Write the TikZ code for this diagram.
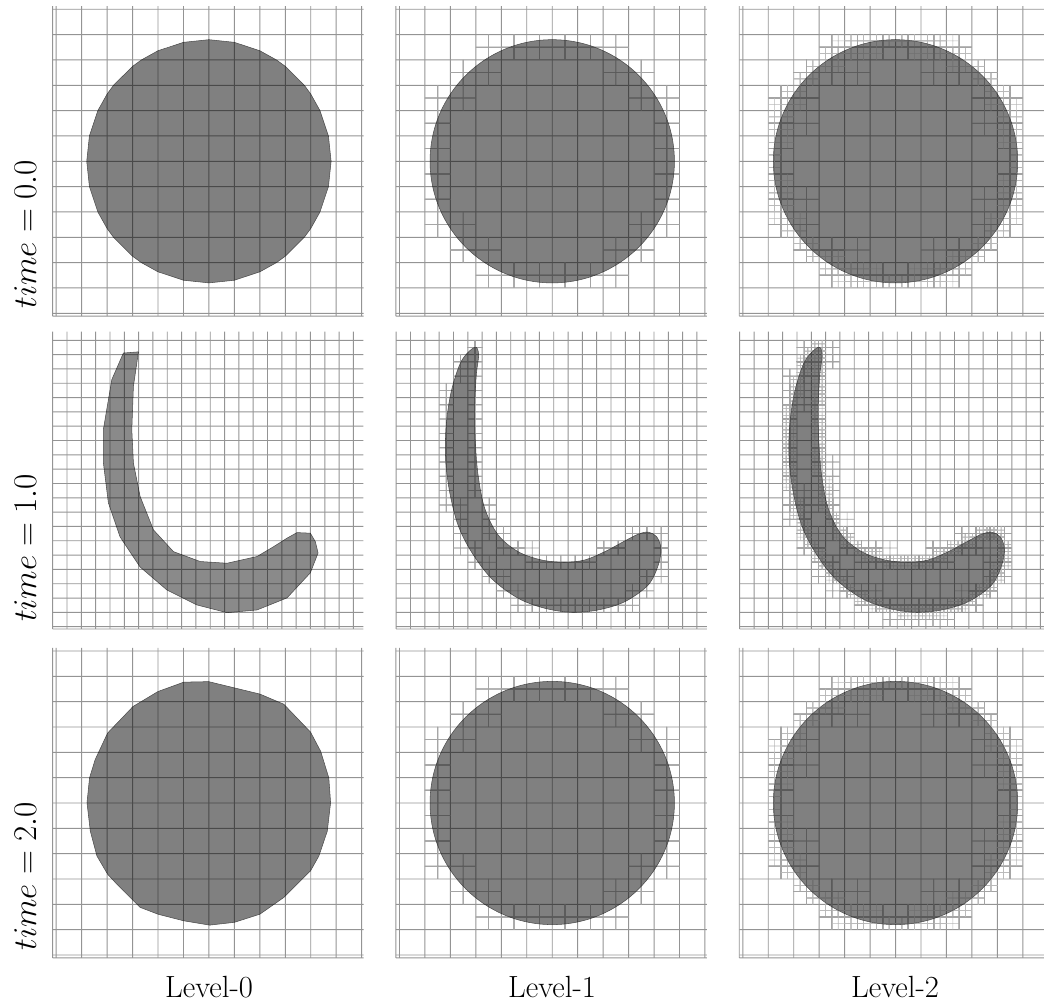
\documentclass[tikz,border=0pt]{standalone}
\usepackage{amsmath}
\usepackage{tikz}

\definecolor{blob}{gray}{0.5}
\definecolor{blobzero}{gray}{0.54}
\tikzset{
  blobfill/.style={fill=blob, draw=black!70, line width=0.4pt},
  coarse/.style={line width=0.7pt},
  fine/.style={black!85, line width=0.5pt},
  finer/.style={black!65, line width=0.4pt},
  meshlayer/.style={transparency group, opacity=0.42},
  panellabel/.style={font=\fontsize{23}{28}\selectfont},
}

% coarse mesh, 12 x 12 cells (circle runs)
\newcommand{\squaregrid}{%
  \foreach \i in {0,...,12} \draw[coarse] (\i,-0.11) -- (\i,12.12);
  \foreach \j in {0,...,12} \draw[coarse] (-0.14,\j) -- (12.08,\j);
  \draw[coarse] (-0.14,-0.11) -- (12.08,-0.11) (-0.14,-0.11) -- (-0.14,12.12);}
% coarse mesh, 21 x 20 cells (crescent runs)
\newcommand{\slimgrid}{%
  \foreach \i in {0,...,21} \draw[coarse] (\i,-0.16) -- (\i,20.6);
  \foreach \j in {0,...,20} \draw[coarse] (0,\j) -- (21.7,\j);
  \draw[coarse] (0,-0.16) -- (21.7,-0.16);}

% split the coarse cell / the half cell holding a point
\newcommand{\splitcell}[2]{%
  \pgfmathsetmacro\cellx{floor(#1)}%
  \pgfmathsetmacro\celly{floor(#2)}%
  \draw[fine] (\cellx+0.5,\celly) -- ++(0,1) (\cellx,\celly+0.5) -- ++(1,0);}
\newcommand{\splithalf}[2]{%
  \pgfmathsetmacro\halfx{floor(2*(#1))/2}%
  \pgfmathsetmacro\halfy{floor(2*(#2))/2}%
  \draw[finer] (\halfx+0.25,\halfy) -- ++(0,0.5) (\halfx,\halfy+0.25) -- ++(0.5,0);}

\newcommand{\circlelevelone}{%
  \foreach \a in {0,2,...,358} {\splitcell{6+4.8*cos(\a)}{6+4.8*sin(\a)}}}
\newcommand{\circleleveltwo}{%
  \foreach \a in {0,2,...,358} {%
    \foreach \r in {4.35,4.8,4.95} {\splitcell{6+\r*cos(\a)}{6+\r*sin(\a)}}%
    \foreach \r in {4.6,4.8,4.95} {\splithalf{6+\r*cos(\a)}{6+\r*sin(\a)}}}}

\newcommand{\crescentpts}{5.476/19.51, 4.545/18.53, 3.846/16.43, 3.497/14.10,
  3.448/11.78, 3.727/9.44, 4.315/7.11, 5.245/5.24, 6.643/3.38, 8.510/1.99,
  10.37/1.29, 12.24/1.01, 14.10/1.17, 15.97/1.75, 17.60/2.92, 18.30/4.31,
  18.48/5.48, 18.18/6.29, 17.60/6.60, 16.90/6.46, 15.97/5.99, 14.57/5.24,
  13.17/4.66, 11.77/4.50, 10.14/4.66, 8.510/5.24, 7.112/6.41, 6.175/8.28,
  5.713/10.61, 5.524/12.94, 5.476/15.27, 5.594/17.60, 5.755/19.00}
\newcommand{\crescentlevelone}{%
  \foreach \x/\y [remember=\x as \lx (initially 5.755), remember=\y as \ly (initially 19.00)] in \crescentpts {%
    \foreach \t in {0,0.1,...,0.9} {\splitcell{\lx+\t*(\x-\lx)}{\ly+\t*(\y-\ly)}}}}
\newcommand{\crescentleveltwo}{%
  \foreach \x/\y [remember=\x as \lx (initially 5.755), remember=\y as \ly (initially 19.00)] in \crescentpts {%
    \foreach \t in {0,0.1,...,0.9} {%
      \pgfmathsetmacro\ptx{\lx+\t*(\x-\lx)}%
      \pgfmathsetmacro\pty{\ly+\t*(\y-\ly)}%
      \foreach \dx/\dy in {0/0,0.35/0,-0.35/0,0/0.35,0/-0.35} {\splitcell{\ptx+(\dx)}{\pty+(\dy)}}%
      \foreach \dx/\dy in {0/0,0.2/0,-0.2/0,0/0.2,0/-0.2} {\splithalf{\ptx+(\dx)}{\pty+(\dy)}}}}}

\newcommand{\coarsedisc}{(10.8,6) -- (10.695,7) -- (10.363,8) -- (10,8.653) -- (9.747,9) -- (9,9.747)
  -- (8.653,10) -- (8,10.363) -- (7,10.695) -- (6,10.8) -- (5,10.695) -- (4,10.363) -- (3.347,10)
  -- (3,9.747) -- (2.253,9) -- (2,8.653) -- (1.637,8) -- (1.305,7) -- (1.2,6) -- (1.305,5)
  -- (1.637,4) -- (2,3.347) -- (2.253,3) -- (3,2.253) -- (3.347,2) -- (4,1.637) -- (5,1.305)
  -- (6,1.2) -- (7,1.305) -- (8,1.637) -- (8.653,2) -- (9,2.253) -- (9.747,3) -- (10,3.347)
  -- (10.363,4) -- (10.695,5) -- cycle}
\newcommand{\roughdisc}{(5.01,10.77) -- (5.99,10.79) -- (8.0,10.30) -- (8.94,9.90) -- (9.99,8.80)
  -- (10.39,8.04) -- (10.71,6.99) -- (10.78,6.01) -- (10.65,4.89) -- (10.32,3.91) -- (9.99,3.32)
  -- (8.94,2.27) -- (8.0,1.61) -- (7.0,1.29) -- (6.03,1.18) -- (5.01,1.35) -- (4.0,1.61) -- (3.30,1.88)
  -- (2.39,2.79) -- (2.02,3.19) -- (1.60,3.91) -- (1.34,4.89) -- (1.21,6.01) -- (1.31,6.99)
  -- (1.53,7.71) -- (2.02,8.76) -- (3.02,9.81) -- (4.0,10.40) -- cycle}
\newcommand{\smoothcrescent}{plot[smooth cycle, tension=0.55] coordinates {(5.476,19.51) (4.545,18.53)
  (3.846,16.43) (3.497,14.10) (3.448,11.78) (3.727,9.44) (4.315,7.11) (5.245,5.24) (6.643,3.38)
  (8.510,1.99) (10.37,1.29) (12.24,1.01) (14.10,1.17) (15.97,1.75) (17.60,2.92) (18.30,4.31)
  (18.48,5.48) (18.18,6.29) (17.60,6.60) (16.90,6.46) (15.97,5.99) (14.57,5.24) (13.17,4.66)
  (11.77,4.50) (10.14,4.66) (8.510,5.24) (7.112,6.41) (6.175,8.28) (5.713,10.61) (5.524,12.94)
  (5.476,15.27) (5.594,17.60) (5.755,19.00)}}

\begin{document}
\begin{tikzpicture}[x=0.75pt, y=0.75pt]
  \useasboundingbox (0,0) rectangle (1044,1005);
  \clip (0,0) rectangle (1044,1005);

  % time = 0.0
  \begin{scope}[shift={(56.2,691.7)}, x=19.09pt, y=19pt]
    \filldraw[blobfill] \coarsedisc;
    \begin{scope}[meshlayer] \squaregrid \end{scope}
  \end{scope}
  \begin{scope}[shift={(399.5,691.7)}, x=19.09pt, y=19pt]
    \filldraw[blobfill] (6,6) circle (4.8);
    \begin{scope}[meshlayer] \squaregrid \circlelevelone \end{scope}
  \end{scope}
  \begin{scope}[shift={(742.8,691.7)}, x=19.09pt, y=19pt]
    \filldraw[blobfill] (6,6) circle (4.8);
    \begin{scope}[meshlayer] \squaregrid \circleleveltwo \end{scope}
  \end{scope}

  % time = 1.0
  \begin{scope}[shift={(52.7,378.3)}, x=10.74pt, y=10.74pt]
    \filldraw[blobfill, fill=blobzero] (4.937,19.11) -- (5.986,19.19) -- (5.636,16.78) -- (5.524,13.76)
      -- (5.636,11.43) -- (6.105,9.09) -- (7.035,6.76) -- (8.434,5.24) -- (10.30,4.55) -- (12.17,4.43)
      -- (14.27,4.90) -- (15.43,5.59) -- (16.36,6.18) -- (17.06,6.57) -- (17.99,6.53) -- (18.34,5.94)
      -- (18.53,5.15) -- (17.99,3.76) -- (16.36,2.01) -- (14.27,1.17) -- (12.17,0.98) -- (10.07,1.52)
      -- (7.972,2.57) -- (6.105,4.17) -- (4.706,6.27) -- (3.888,8.65) -- (3.538,11.45) -- (3.538,13.76)
      -- (4.126,17.25) -- cycle;
    \begin{scope}[meshlayer] \slimgrid \end{scope}
  \end{scope}
  \begin{scope}[shift={(396.2,378.3)}, x=10.74pt, y=10.74pt]
    \filldraw[blobfill] \smoothcrescent;
    \begin{scope}[meshlayer] \slimgrid \crescentlevelone \end{scope}
  \end{scope}
  \begin{scope}[shift={(739.7,378.3)}, x=10.74pt, y=10.74pt]
    \filldraw[blobfill] \smoothcrescent;
    \begin{scope}[meshlayer] \slimgrid \crescentleveltwo \end{scope}
  \end{scope}

  % time = 2.0
  \begin{scope}[shift={(56.2,50)}, x=19.09pt, y=19pt]
    \filldraw[blobfill] \roughdisc;
    \begin{scope}[meshlayer] \squaregrid \end{scope}
  \end{scope}
  \begin{scope}[shift={(399.5,50)}, x=19.09pt, y=19pt]
    \filldraw[blobfill] (6,6) circle (4.8);
    \begin{scope}[meshlayer] \squaregrid \circlelevelone \end{scope}
  \end{scope}
  \begin{scope}[shift={(742.8,50)}, x=19.09pt, y=19pt]
    \filldraw[blobfill] (6,6) circle (4.8);
    \begin{scope}[meshlayer] \squaregrid \circleleveltwo \end{scope}
  \end{scope}

  % Labels
  \node[panellabel, rotate=90, anchor=base west] (time0) at (36,692) {$time = 0.0$};
  \node[panellabel, rotate=90, anchor=base west] (time1) at (36,378.3) {$time = 1.0$};
  \node[panellabel, rotate=90, anchor=base west] (time2) at (36,50) {$time = 2.0$};
  \node[panellabel, anchor=base] (level0) at (209,8) {Level-0};
  \node[panellabel, anchor=base] (level1) at (552,8) {Level-1};
  \node[panellabel, anchor=base] (level2) at (895,8) {Level-2};
\end{tikzpicture}
\end{document}
